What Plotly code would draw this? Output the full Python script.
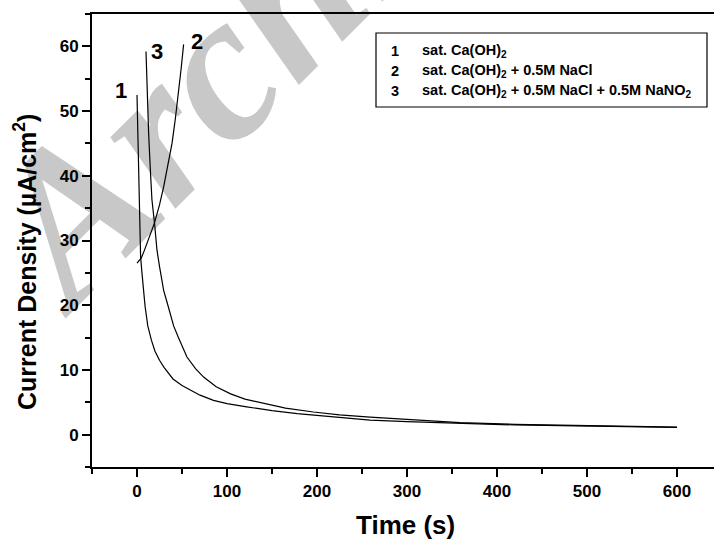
import plotly.graph_objects as go

# ---- data ----
t1 = [0, 1, 2, 3, 4, 5.5, 7, 9, 12, 16, 20, 25, 30, 40, 50, 60, 70, 85, 100, 122, 150, 178, 220, 259, 300, 359, 420, 470, 530, 600]
j1 = [52.5, 46, 39, 32, 27.5, 25, 22.5, 19.8, 16.8, 14.6, 12.9, 11.5, 10.4, 8.6, 7.6, 6.8, 6.1, 5.3, 4.8, 4.3, 3.7, 3.25, 2.7, 2.25, 2.0, 1.7, 1.5, 1.4, 1.27, 1.13]

t2 = [0, 2, 4.8, 8, 12.9, 16.5, 19.6, 25, 29.6, 34, 38.9, 42.5, 46.2, 49, 51.8]
j2 = [26.5, 26.8, 27.3, 28.4, 30.1, 31.6, 32.8, 35.5, 38.3, 41.3, 45.0, 48.7, 52.8, 56.5, 60.3]

t3 = [10, 11.5, 12.9, 14.8, 16.6, 19.6, 22.2, 25, 29.6, 33.3, 40.7, 46, 55.5, 65, 74, 88, 104, 120, 141, 165, 196, 225, 259, 300, 359, 420, 470, 530, 600]
j3 = [59.2, 52, 46.6, 41, 36.3, 32.5, 28.5, 26.0, 22.3, 20.5, 16.8, 15.0, 12.0, 10.2, 8.9, 7.4, 6.3, 5.5, 4.8, 4.1, 3.5, 3.05, 2.7, 2.35, 1.85, 1.6, 1.45, 1.3, 1.15]

curve_labels = ["1", "2", "3"]
label_t = [-17.4, 66.7, 22.6]
label_j = [53.2, 60.7, 59.2]
legend_texts = ["sat. Ca(OH)<sub>2</sub>",
                "sat. Ca(OH)<sub>2</sub> + 0.5M NaCl",
                "sat. Ca(OH)<sub>2</sub> + 0.5M NaCl + 0.5M NaNO<sub>2</sub>"]

x_ticks = [0, 100, 200, 300, 400, 500, 600]
y_ticks = [0, 10, 20, 30, 40, 50, 60]

W, H = 714, 540
L, R, T, B = 92, 0, 14, 73
def px(p):
    return (p - L) / (W - L - R)
def py(p):
    return (H - B - p) / (H - T - B)

FONT = "Liberation Sans, Arial, sans-serif"

fig = go.Figure()
for tt, jj in [(t1, j1), (t2, j2), (t3, j3)]:
    fig.add_trace(go.Scatter(x=tt, y=jj, mode="lines",
                             line=dict(color="black", width=1.2),
                             showlegend=False, hoverinfo="skip"))

annotations = []
for lab, tx, jy in zip(curve_labels, label_t, label_j):
    annotations.append(dict(x=tx, y=jy, xref="x", yref="y", text=lab, showarrow=False,
                            font=dict(family=FONT, size=22, color="black", weight="bold"),
                            xanchor="center", yanchor="middle"))

rows_y = [51, 71, 91]
for lab, txt, ry in zip(curve_labels, legend_texts, rows_y):
    annotations.append(dict(x=px(389), y=py(ry), xref="paper", yref="paper", text=lab,
                            showarrow=False, xanchor="left", yanchor="middle",
                            font=dict(family=FONT, size=14.5, color="black", weight="bold")))
    annotations.append(dict(x=px(420), y=py(ry), xref="paper", yref="paper", text=txt,
                            showarrow=False, xanchor="left", yanchor="middle",
                            font=dict(family=FONT, size=14.5, color="black", weight="bold")))

annotations.append(dict(x=px(25), y=py(262), xref="paper", yref="paper",
                        text="Current Density (µA/cm<sup>2</sup>)", textangle=-90,
                        showarrow=False, xanchor="center", yanchor="middle",
                        font=dict(family=FONT, size=25, color="black", weight="bold")))
annotations.append(dict(x=px(406), y=py(525), xref="paper", yref="paper",
                        text="Time (s)", showarrow=False, xanchor="center", yanchor="middle",
                        font=dict(family=FONT, size=26, color="black", weight="bold")))

shapes = [
    dict(type="rect", xref="paper", yref="paper", x0=px(376), x1=px(707), y0=py(107), y1=py(33),
         line=dict(color="black", width=1.2), fillcolor="rgba(0,0,0,0)", layer="above"),
    dict(type="rect", xref="paper", yref="paper", x0=px(236), x1=px(256), y0=py(15), y1=py(-5),
         line=dict(width=0), fillcolor="rgba(0,0,0,0)", layer="below",
         label=dict(text="Archive", textangle=-45, textposition="middle center",
                    font=dict(family="Liberation Serif, Times New Roman, serif", size=210,
                              color="#c8c8c8", weight="bold", style="italic"))),
]

fig.update_layout(
    width=W, height=H,
    margin=dict(l=L, r=R, t=T, b=B),
    paper_bgcolor="white", plot_bgcolor="rgba(0,0,0,0)",
    annotations=annotations, shapes=shapes,
    font=dict(family=FONT, color="black"),
)
fig.update_xaxes(range=[-50, -50 + (W - L - R) / 0.9], tickvals=x_ticks,
                 showgrid=False, zeroline=False, showline=True, linecolor="black", linewidth=2,
                 mirror=True, ticks="outside", ticklen=8, tickwidth=2, tickcolor="black",
                 minor=dict(dtick=50, tick0=0, ticks="outside", ticklen=5, tickwidth=1.5, tickcolor="black"),
                 tickfont=dict(family=FONT, size=17, color="black", weight="bold"))
fig.update_yaxes(range=[-5, 65], tickvals=y_ticks,
                 showgrid=False, zeroline=False, showline=True, linecolor="black", linewidth=2,
                 ticks="outside", ticklen=8, tickwidth=2, tickcolor="black",
                 minor=dict(dtick=5, tick0=0, ticks="outside", ticklen=5, tickwidth=1.5, tickcolor="black"),
                 tickfont=dict(family=FONT, size=17, color="black", weight="bold"))

fig.write_html("out.html", config={"displayModeBar": False},
               post_script="document.body.style.margin='0';document.body.style.padding='0';document.body.style.overflow='hidden';")
